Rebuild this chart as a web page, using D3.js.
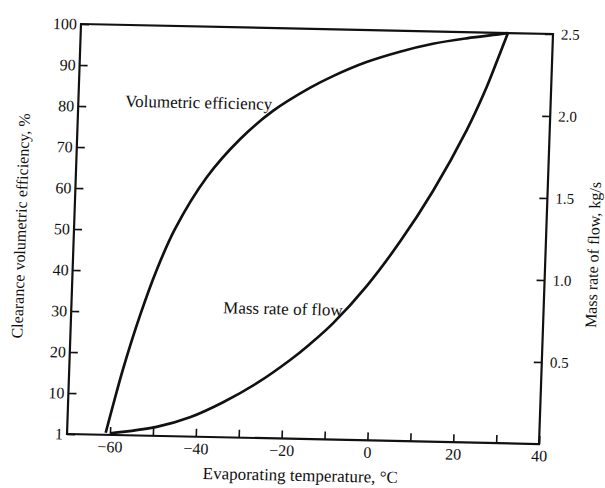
<!DOCTYPE html>
<html>
<head>
<meta charset="utf-8">
<script src="https://cdn.jsdelivr.net/npm/d3@7"></script>
<style>
  html, body { margin: 0; padding: 0; background: #fff; }
  svg { display: block; }
</style>
</head>
<body>
<script>
// ---- data ----
const effTemps   = [-61, -59.5, -57.5, -53.9, -50.4, -46.5, -39.5, -32, -24.6, -16.2, -10.9, -3.2, 4.5, 12.1, 19.9, 27.7, 29.5];
const effValues  = [0.5, 7.3, 16.0, 29.4, 40.5, 50.5, 63.3, 72.8, 79.8, 85.6, 88.6, 92.2, 94.9, 97.0, 98.5, 99.7, 100];
const flowTemps  = [-60, -49.2, -41.5, -33.9, -26.2, -18.7, -14.1, -8.9, -1.4, 6.0, 13.3, 20.7, 25.0, 27.8, 29.5];
const flowValues = [0.01, 0.055, 0.118, 0.214, 0.334, 0.478, 0.58, 0.71, 0.94, 1.214, 1.528, 1.905, 2.17, 2.375, 2.5];

const leftTickValues  = [0, 10, 20, 30, 40, 50, 60, 70, 80, 90, 100];
const leftTickLabels  = ["1", "10", "20", "30", "40", "50", "60", "70", "80", "90", "100"];
const rightTickValues = [0.5, 1.0, 1.5, 2.0, 2.5];
const rightTickLabels = ["0.5", "1.0", "1.5", "2.0", "2.5"];
const bottomTickValues = [-60, -50, -40, -30, -20, -10, 0, 10, 20, 30, 40];
const bottomTickLabels = ["\u221260", "", "\u221240", "", "\u221220", "", "0", "", "20", "", "40"];

const xTitle = "Evaporating temperature, \u00B0C";
const yLeftTitle = "Clearance volumetric efficiency, %";
const yRightTitle = "Mass rate of flow, kg/s";
const effLabel = "Volumetric efficiency";
const flowLabel = "Mass rate of flow";

// ---- layout ----
const width = 605, height = 488;
const W = 472, H = 410;
const font = "'Liberation Serif', 'Times New Roman', serif";
const ink = "#111";

const svg = d3.select("body").append("svg")
  .attr("width", width).attr("height", height);
svg.append("rect").attr("width", width).attr("height", height).attr("fill", "#fff");

// scanned page is slightly skewed
const g = svg.append("g").attr("transform", "matrix(1,0.0212,-0.0341,1,81,24)");

const x = d3.scaleLinear().domain([-70, 40]).range([0, W]);
const yL = d3.scaleLinear().domain([0, 100]).range([H, 0]);
const yR = d3.scaleLinear().domain([0, 2.5]).range([H, 0]);

function styleAxis(sel, size) {
  sel.select(".domain").remove();
  sel.attr("font-family", font).attr("font-size", size);
  sel.selectAll(".tick line").attr("stroke", ink).attr("stroke-width", 1.6);
  sel.selectAll(".tick text").attr("fill", ink);
}

g.append("g")
  .call(d3.axisLeft(yL).tickValues(leftTickValues)
    .tickFormat((d, i) => leftTickLabels[i]).tickSize(-8).tickPadding(4))
  .call(s => styleAxis(s, 16));

g.append("g").attr("transform", `translate(${W},0)`)
  .call(d3.axisRight(yR).tickValues(rightTickValues)
    .tickFormat((d, i) => rightTickLabels[i]).tickSize(-8).tickPadding(8))
  .call(s => styleAxis(s, 15));

g.append("g").attr("transform", `translate(0,${H})`)
  .call(d3.axisBottom(x).tickValues(bottomTickValues)
    .tickFormat((d, i) => bottomTickLabels[i]).tickSize(-8).tickPadding(6))
  .call(s => styleAxis(s, 16));

// frame
g.append("rect").attr("x", 0).attr("y", 0).attr("width", W).attr("height", H)
  .attr("fill", "none").attr("stroke", ink).attr("stroke-width", 2.2);

// curves
const effLine = d3.line().x((d, i) => x(effTemps[i])).y(d => yL(d)).curve(d3.curveCatmullRom.alpha(0.5));
const flowLine = d3.line().x((d, i) => x(flowTemps[i])).y(d => yR(d)).curve(d3.curveCatmullRom.alpha(0.5));

g.append("path").attr("d", effLine(effValues))
  .attr("fill", "none").attr("stroke", ink).attr("stroke-width", 2.7);
g.append("path").attr("d", flowLine(flowValues))
  .attr("fill", "none").attr("stroke", ink).attr("stroke-width", 2.7);

// curve labels
g.append("text").attr("x", 46.7).attr("y", 81.7)
  .attr("font-family", font).attr("font-size", 17).attr("fill", ink).text(effLabel);
g.append("text").attr("x", 151.8).attr("y", 286)
  .attr("font-family", font).attr("font-size", 17).attr("fill", ink).text(flowLabel);

// axis titles
g.append("text").attr("x", 234.5).attr("y", 452).attr("text-anchor", "middle")
  .attr("font-family", font).attr("font-size", 17).attr("fill", ink).text(xTitle);
g.append("text").attr("transform", "translate(-48,203) rotate(-90)").attr("text-anchor", "middle")
  .attr("font-family", font).attr("font-size", 16).attr("fill", ink).text(yLeftTitle);
g.append("text").attr("transform", "translate(525,220) rotate(-90)").attr("text-anchor", "middle")
  .attr("font-family", font).attr("font-size", 16).attr("fill", ink).text(yRightTitle);
</script>
</body>
</html>
